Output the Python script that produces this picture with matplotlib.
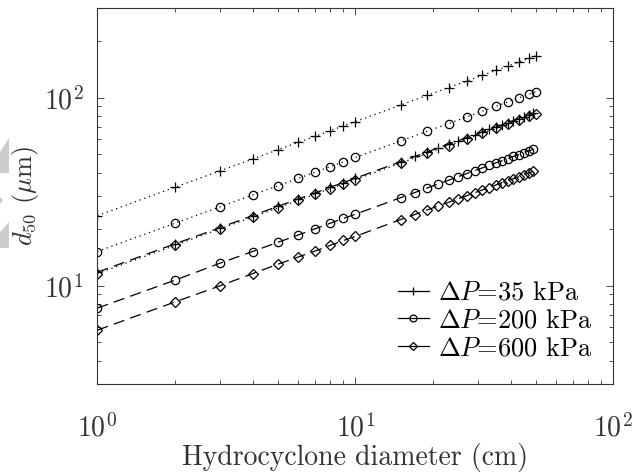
import matplotlib
matplotlib.use("Agg")
import matplotlib.pyplot as plt
from matplotlib.lines import Line2D
from matplotlib.patches import Polygon

plt.rcParams['font.family'] = 'serif'
plt.rcParams['font.serif'] = ['cmr10']
plt.rcParams['mathtext.fontset'] = 'cm'
plt.rcParams['axes.formatter.use_mathtext'] = True

# hydrocyclone diameter (cm)
d_dot = [1, 2, 3, 4, 5, 6, 7, 8, 9, 10, 15, 19, 23, 27, 31, 35, 39, 43, 47, 50]
d_dash = [1, 2, 3, 4, 5, 6, 7, 8, 9, 10, 15, 17, 19, 21, 23, 25, 27, 29, 31, 33,
          35, 37, 39, 41, 43, 45, 47, 49]

# d50 (um), dotted curves
dot_35 = [23.6, 33.4, 40.9, 47.2, 52.8, 57.8, 62.4, 66.8, 70.8, 74.6,
          91.4, 102.9, 113.2, 122.6, 131.4, 139.6, 147.4, 154.7, 161.8, 166.9]
dot_200 = [15.2, 21.5, 26.3, 30.4, 34.0, 37.2, 40.2, 43.0, 45.6, 48.1,
           58.9, 66.3, 72.9, 79.0, 84.6, 89.9, 94.9, 99.7, 104.2, 107.5]
dot_600 = [11.6, 16.4, 20.1, 23.2, 25.9, 28.4, 30.7, 32.8, 34.8, 36.7,
           44.9, 50.6, 55.6, 60.3, 64.6, 68.6, 72.4, 76.1, 79.5, 82.0]

# d50 (um), dashed curves
dash_35 = [11.8, 16.7, 20.4, 23.6, 26.4, 28.9, 31.2, 33.4, 35.4, 37.3,
           45.7, 48.7, 51.4, 54.1, 56.6, 59.0, 61.3, 63.5, 65.7, 67.8,
           69.8, 71.8, 73.7, 75.6, 77.4, 79.2, 80.9, 82.6]
dash_200 = [7.6, 10.7, 13.2, 15.2, 17.0, 18.6, 20.1, 21.5, 22.8, 24.0,
            29.4, 31.3, 33.1, 34.8, 36.4, 38.0, 39.5, 40.9, 42.3, 43.7,
            45.0, 46.2, 47.5, 48.7, 49.8, 51.0, 52.1, 53.2]
dash_600 = [5.8, 8.2, 10.0, 11.6, 13.0, 14.2, 15.3, 16.4, 17.4, 18.3,
            22.5, 23.9, 25.3, 26.6, 27.8, 29.0, 30.1, 31.2, 32.3, 33.3,
            34.3, 35.3, 36.2, 37.1, 38.0, 38.9, 39.8, 40.6]

labels = [r'$\Delta P$=35 kPa', r'$\Delta P$=200 kPa', r'$\Delta P$=600 kPa']
markers = ['+', 'o', 'D']
msizes = [7, 6, 5]

fig = plt.figure(figsize=(6.35, 4.72), dpi=100)
ax = fig.add_axes([0.1532, 0.1864, 0.8126, 0.7966])

dot_style = dict(color='k', lw=0.9, ls=(0, (1, 3)), mfc='none', mec='k', mew=0.9)
dash_style = dict(color='k', lw=0.9, ls=(0, (9, 5)), mfc='none', mec='k', mew=0.9)

for y, m, s in zip([dot_35, dot_200, dot_600], markers, msizes):
    ax.plot(d_dot, y, marker=m, ms=s, **dot_style)
for y, m, s in zip([dash_35, dash_200, dash_600], markers, msizes):
    ax.plot(d_dash, y, marker=m, ms=s, **dash_style)

ax.set_xscale('log')
ax.set_yscale('log')
ax.set_xlim(1, 100)
ax.set_ylim(3, 300)

ax.tick_params(which='both', direction='in', top=True, right=True,
               labelsize=20, width=0.6, color='#333333')
ax.tick_params(which='major', length=5)
ax.tick_params(which='minor', length=3)
ax.tick_params(axis='x', which='major', pad=21)
ax.tick_params(axis='y', which='major', pad=10)
for sp in ax.spines.values():
    sp.set_linewidth(0.8)
    sp.set_color('#333333')

ax.set_xlabel('Hydrocyclone diameter (cm)', fontsize=20, labelpad=1, color='#333333')
ax.set_ylabel(r'$d_{50}$ ($\mu$m)', fontsize=19, labelpad=2, color='#333333')
for t in ax.get_xticklabels() + ax.get_yticklabels():
    t.set_color('#333333')

handles = [Line2D([], [], color='k', lw=0.9, marker=m, ms=s - 1, mfc='none',
                  mec='k', mew=0.9) for m, s in zip(markers, msizes)]
ax.legend(handles, labels, loc='lower right', frameon=False, fontsize=19,
          handlelength=1.15, handletextpad=0.35, labelspacing=0.15,
          borderaxespad=0, bbox_to_anchor=(0.98, 0.035))

# grey shapes on left edge
grey = '#cccccc'
for pts in [[(9, 138), (9, 173), (0, 173), (0, 152)],
            [(0, 197), (3, 200), (0, 204)],
            [(9, 222), (9, 248), (0, 248), (0, 232)]]:
    fig.patches.append(Polygon([(x / 635, 1 - y / 472) for x, y in pts],
                               closed=True, transform=fig.transFigure,
                               color=grey, lw=0))

fig.savefig('out.png', dpi=100)
